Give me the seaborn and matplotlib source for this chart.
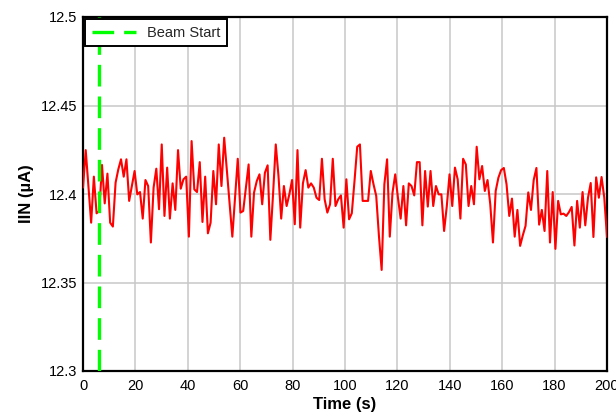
import numpy as np
import pandas as pd
import matplotlib
matplotlib.use("Agg")
import matplotlib.pyplot as plt
from matplotlib.ticker import MultipleLocator, FuncFormatter
import seaborn as sns

# ---- data ----
iin_ua = [
    12.4036, 12.4248, 12.4043, 12.3838, 12.4098, 12.3891, 12.3904, 12.4164, 12.3947, 12.4115,
    12.3838, 12.3816, 12.4064, 12.4139, 12.4196, 12.4098, 12.4196, 12.3961, 12.4045, 12.4130,
    12.3998, 12.4011, 12.3861, 12.4079, 12.4045, 12.3726, 12.4036, 12.4143, 12.3914, 12.4280,
    12.3876, 12.4149, 12.3861,
    12.4060, 12.3910, 12.4248, 12.4030, 12.4083, 12.4098, 12.3759, 12.4299, 12.4026, 12.4011,
    12.4180, 12.3842, 12.4098, 12.3778, 12.3838, 12.4130, 12.3942, 12.4280, 12.4045, 12.4318,
    12.4130, 12.3942, 12.3759, 12.3979, 12.4199, 12.3895, 12.3904, 12.4036, 12.4167, 12.3759,
    12.4008, 12.4073, 12.4111, 12.3942, 12.4120, 12.4162, 12.3741, 12.3998, 12.4280, 12.4102,
    12.3861, 12.4045, 12.3932, 12.3998, 12.4079, 12.3829, 12.4248, 12.3810, 12.4060, 12.4135,
    12.4036, 12.4060, 12.4036, 12.3979, 12.3966, 12.4199, 12.3970, 12.3895, 12.3942, 12.4199,
    12.3932, 12.3970, 12.3992, 12.3810, 12.4083, 12.3857, 12.3891, 12.4073, 12.4267, 12.4280,
    12.3961, 12.3961, 12.3961, 12.4130, 12.4055, 12.3989, 12.3763, 12.3571, 12.4055, 12.4196,
    12.3759, 12.4008, 12.4111, 12.3979, 12.3861, 12.4045, 12.3823, 12.4060, 12.4045, 12.3992,
    12.4180, 12.4180, 12.3823, 12.4130, 12.3929, 12.4130, 12.3932, 12.4045, 12.3998, 12.3998,
    12.3791, 12.3932, 12.4111, 12.3932, 12.4149, 12.4083, 12.3861, 12.4199, 12.4167, 12.3932,
    12.4045, 12.3942,
    12.4267, 12.4083, 12.4158, 12.4017, 12.4079, 12.3942, 12.3726, 12.4017, 12.4092, 12.4135,
    12.4147, 12.4055, 12.3876, 12.3974, 12.3759, 12.3910, 12.3707, 12.3767, 12.3820, 12.4009,
    12.3910, 12.4079, 12.4147, 12.3827, 12.3910, 12.3791, 12.4130, 12.3726, 12.4011, 12.3690,
    12.3961, 12.3885, 12.3889, 12.3876, 12.3898, 12.3927, 12.3709, 12.3961, 12.3810, 12.4011,
    12.3823, 12.3979, 12.4062, 12.3757, 12.4094, 12.3979, 12.4096, 12.3979, 12.3757,
]
start_time_s = 0.0
end_time_s = 200.0
beam_start_s = 6.2
legend_label = "Beam Start"
x_label = "Time (s)"
y_label = "IIN (µA)"
x_limits = (0, 200)
y_limits = (12.3, 12.5)

time_s = np.linspace(start_time_s, end_time_s, len(iin_ua))
df = pd.DataFrame({"time": time_s, "iin": iin_ua})

# ---- style ----
sns.set_theme(style="whitegrid")
plt.rcParams["font.family"] = ["Liberation Sans", "DejaVu Sans"]

fig = plt.figure(figsize=(6.16, 4.13), dpi=100)
ax = fig.add_axes([83 / 616, 1 - 371 / 413, (607 - 83) / 616, (371 - 17) / 413])
ax.set_facecolor("white")

sns.lineplot(data=df, x="time", y="iin", ax=ax, color="#ff0000", linewidth=1.5,
             legend=False, zorder=3)
ax.axvline(beam_start_s, color="#00ff00", linewidth=2.4, linestyle=(0, (6.5, 3)),
           label=legend_label, zorder=4)

ax.set_xlim(*x_limits)
ax.set_ylim(*y_limits)
ax.xaxis.set_major_locator(MultipleLocator(20))
ax.yaxis.set_major_locator(MultipleLocator(0.05))
ax.yaxis.set_major_formatter(FuncFormatter(lambda v, p: f"{v:g}"))
ax.tick_params(axis="both", length=0, labelsize=10.5, colors="black")
ax.tick_params(axis="y", pad=4)
ax.tick_params(axis="x", pad=6)

ax.grid(True, color="#c8c8c8", linewidth=1.1)
for s in ax.spines.values():
    s.set_visible(True)
    s.set_color("black")
    s.set_linewidth(1.6)

ax.set_xlabel(x_label, fontsize=12, fontweight="bold", color="black", labelpad=3)
ax.set_ylabel(y_label, fontsize=12, fontweight="bold", color="black", labelpad=5)

leg = ax.legend(loc="upper left", frameon=True, fancybox=False, fontsize=10.5,
                handlelength=3.0, borderaxespad=0.15, borderpad=0.45)
leg.get_frame().set_edgecolor("black")
leg.get_frame().set_linewidth(1.4)
leg.get_frame().set_alpha(1)

fig.savefig("out.png", dpi=100)
